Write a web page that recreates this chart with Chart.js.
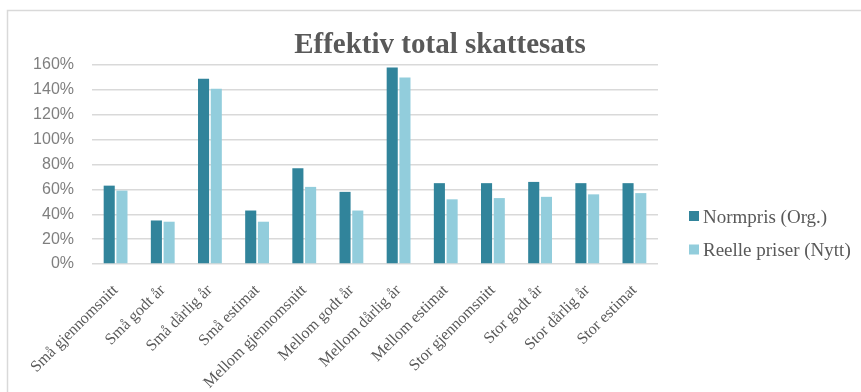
<!DOCTYPE html>
<html>
<head>
<meta charset="utf-8">
<script src="https://cdn.jsdelivr.net/npm/chart.js@4.4.1/dist/chart.umd.min.js"></script>
<style>
  html, body { margin: 0; padding: 0; background: #fff; }
  #wrap { position: relative; width: 861px; height: 392px; }
</style>
</head>
<body>
<div id="wrap"><canvas id="chart"></canvas></div>
<script>
const TITLE = 'Effektiv total skattesats';
const categories = [
  'Små gjennomsnitt', 'Små godt år', 'Små dårlig år', 'Små estimat',
  'Mellom gjennomsnitt', 'Mellom godt år', 'Mellom dårlig år', 'Mellom estimat',
  'Stor gjennomsnitt', 'Stor godt år', 'Stor dårlig år', 'Stor estimat'
];
const seriesNames = ['Normpris (Org.)', 'Reelle priser (Nytt)'];
// effective total tax rate, in percent
const normpris = [63, 35, 149, 43, 77, 58, 158, 65, 65, 66, 65, 65];
const reelle   = [59, 34, 141, 34, 62, 43, 150, 52, 53, 54, 56, 57];
const yTicks = { min: 0, max: 160, step: 20 };

const DARK = '#31849B';
const LIGHT = '#92CDDC';
const GREY = '#595959';

// outer frame, title and the legend on the right
const decorations = {
  id: 'decorations',
  beforeDraw(chart) {
    const ctx = chart.ctx;
    ctx.save();
    ctx.strokeStyle = '#d9d9d9';
    ctx.lineWidth = 1.5;
    ctx.strokeRect(7.5, 10.5, 1000, 600);
    ctx.restore();
  },
  afterDraw(chart) {
    const ctx = chart.ctx;
    ctx.save();
    ctx.fillStyle = GREY;
    ctx.font = 'bold 29px "Liberation Serif", "Times New Roman", serif';
    ctx.textAlign = 'center';
    ctx.textBaseline = 'alphabetic';
    ctx.fillText(TITLE, 440, 53);

    ctx.font = '19px "Liberation Serif", "Times New Roman", serif';
    ctx.textAlign = 'left';
    chart.data.datasets.forEach((ds, i) => {
      const y = 216 + i * 33.5;
      ctx.fillStyle = ds.backgroundColor;
      ctx.fillRect(689, y - 5, 10, 10);
      ctx.fillStyle = GREY;
      ctx.fillText(ds.label, 703, y + 6.5);
    });
    ctx.restore();
  }
};

new Chart(document.getElementById('chart'), {
  type: 'bar',
  data: {
    labels: categories,
    datasets: [
      { label: seriesNames[0], data: normpris, backgroundColor: DARK },
      { label: seriesNames[1], data: reelle, backgroundColor: LIGHT }
    ]
  },
  options: {
    responsive: true,
    maintainAspectRatio: false,
    animation: false,
    categoryPercentage: 0.54,
    barPercentage: 0.87,
    layout: { padding: { left: 0, top: 65, right: 203, bottom: 0 } },
    plugins: {
      legend: { display: false },
      title: { display: false },
      tooltip: { enabled: false }
    },
    scales: {
      x: {
        grid: { display: false },
        border: { display: false },
        ticks: {
          autoSkip: false,
          minRotation: 45,
          maxRotation: 45,
          padding: 9,
          color: GREY,
          font: { family: '"Liberation Serif", "Times New Roman", serif', size: 16 }
        },
        afterFit(scale) { scale.height = 128; }
      },
      y: {
        min: yTicks.min,
        max: yTicks.max,
        grid: { color: '#d9d9d9', lineWidth: 1.5, drawTicks: false },
        border: { display: false },
        ticks: {
          stepSize: yTicks.step,
          padding: 18,
          color: '#7f7f7f',
          font: { family: '"Liberation Sans", Arial, sans-serif', size: 16 },
          callback: v => v + '%'
        },
        afterFit(scale) { scale.width = 92; }
      }
    }
  },
  plugins: [decorations]
});
</script>
</body>
</html>
